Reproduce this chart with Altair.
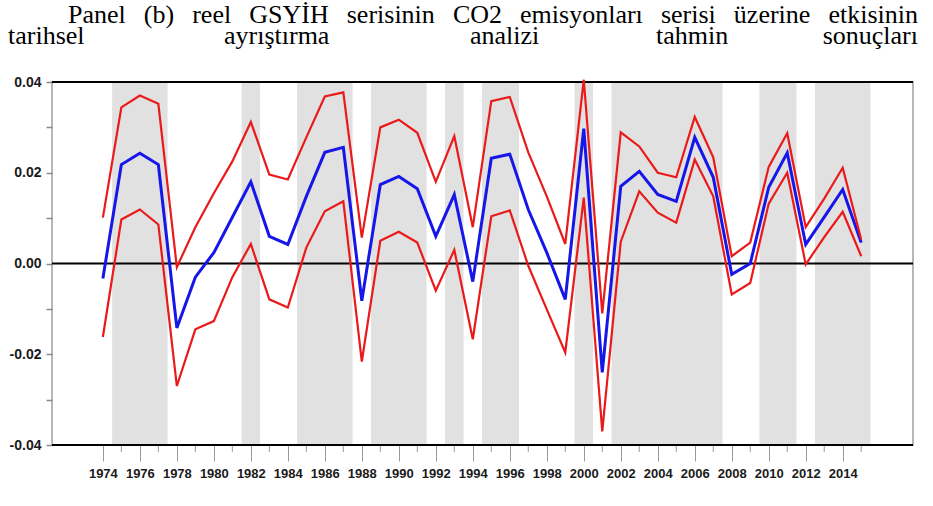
import altair as alt
import pandas as pd

years = list(range(1974, 2016))
mid = [-0.0033, 0.0218, 0.0243, 0.0218, -0.0142, -0.0030, 0.0024, 0.0102, 0.0180, 0.0060,
       0.0042, 0.0148, 0.0245, 0.0256, -0.0082, 0.0174, 0.0192, 0.0165, 0.0060, 0.0152,
       -0.0040, 0.0232, 0.0241, 0.0119, 0.0024, -0.0079, 0.0297, -0.0240, 0.0170, 0.0203,
       0.0152, 0.0137, 0.0278, 0.0190, -0.0024, 0.0000, 0.0168, 0.0244, 0.0042, 0.0102,
       0.0163, 0.0046]
upper = [0.0101, 0.0344, 0.0370, 0.0352, -0.0008, 0.0080, 0.0155, 0.0225, 0.0312, 0.0196,
         0.0185, 0.0278, 0.0368, 0.0377, 0.0057, 0.0300, 0.0317, 0.0288, 0.0180, 0.0281,
         0.0080, 0.0358, 0.0367, 0.0245, 0.0148, 0.0043, 0.0405, -0.0110, 0.0289, 0.0258,
         0.0200, 0.0190, 0.0323, 0.0234, 0.0016, 0.0046, 0.0213, 0.0287, 0.0080, 0.0143,
         0.0211, 0.0053]
lower = [-0.0162, 0.0097, 0.0119, 0.0086, -0.0270, -0.0145, -0.0127, -0.0030, 0.0043, -0.0079,
         -0.0097, 0.0035, 0.0115, 0.0137, -0.0216, 0.0050, 0.0070, 0.0046, -0.0060, 0.0030,
         -0.0167, 0.0104, 0.0117, -0.0005, -0.0101, -0.0196, 0.0145, -0.0370, 0.0048, 0.0159,
         0.0112, 0.0090, 0.0229, 0.0148, -0.0068, -0.0043, 0.0132, 0.0200, -0.0002, 0.0058,
         0.0114, 0.0016]

shade_start = [1975, 1982, 1985, 1989, 1993, 1995, 2000, 2002, 2010, 2013]
shade_end = [1977, 1982, 1987, 1991, 1993, 1996, 2000, 2007, 2011, 2015]

hlines = [0.04, 0.0, -0.04]
major_years = list(range(1974, 2015, 2))
minor_years = list(range(1975, 2016, 2))
y_ticks = [-0.04, -0.03, -0.02, -0.01, 0.0, 0.01, 0.02, 0.03, 0.04]

title_line1 = ["Panel", "(b)", "reel", "GSYİH", "serisinin", "CO2", "emisyonları",
               "serisi", "üzerine", "etkisinin"]
title_line2 = ["tarihsel", "ayrıştırma", "analizi", "tahmin", "sonuçları"]

W, H = 861, 363
LABEL_FONT = "'Liberation Sans', Arial, sans-serif"
SERIF = "'Liberation Serif', 'Times New Roman', serif"
TFS = 26

# Times-style advance widths (per 1000 em) used to justify the title lines
ADV = {"P": 556, "a": 444, "n": 500, "e": 444, "l": 278, "(": 333, "b": 500, ")": 333,
       "r": 333, "G": 722, "S": 556, "Y": 722, "İ": 333, "H": 722, "s": 389, "i": 278,
       "C": 667, "O": 722, "2": 500, "m": 778, "y": 500, "o": 500, "ı": 278, "ü": 500,
       "z": 444, "t": 278, "k": 500, "h": 500, "ş": 389, "ç": 444, "u": 500}


def wwidth(w):
    return sum(ADV.get(c, 500) for c in w) * TFS / 1000.0


xs = alt.Scale(domain=[1971.25, 2017.8], nice=False, zero=False)
ys = alt.Scale(domain=[-0.04, 0.04], nice=False, zero=False)

xaxis = alt.Axis(values=major_years, format="d", tickSize=16, tickColor="#9a9a9a", tickWidth=1,
                 domain=False, grid=False, labelFont=LABEL_FONT, labelFontSize=13,
                 labelFontWeight="bold", labelColor="#1a1a1a", labelPadding=6, title=None,
                 labelFlush=False, labelOverlap=False)
yaxis = alt.Axis(values=y_ticks, tickSize=6, tickColor="#8a8a8a", tickWidth=1.5, domain=False,
                 grid=False, labelFont=LABEL_FONT, labelFontSize=14, labelFontWeight="bold",
                 labelColor="#1a1a1a", labelPadding=5, title=None,
                 labelExpr="abs(round(datum.value*100)) % 2 == 0 ? (datum.value < 0 ? '-' : '') + format(abs(datum.value), '.2f') : ''")

df = pd.DataFrame({"year": years, "mid": mid, "upper": upper, "lower": lower})
long = df.melt("year", var_name="series", value_name="value")

bands = alt.Chart(pd.DataFrame({"s": shade_start, "e": shade_end})).transform_calculate(
    x0="datum.s - 0.5", x1="datum.e + 0.5"
).mark_rect(color="#e1e1e1").encode(
    x=alt.X("x0:Q", scale=xs, axis=xaxis), x2="x1:Q",
    y=alt.value(0), y2=alt.value(H)
)

rules = alt.Chart(pd.DataFrame({"v": hlines})).mark_rule(color="black", strokeWidth=2).encode(
    y=alt.Y("v:Q", scale=ys, axis=yaxis)
)

minor = alt.Chart(pd.DataFrame({"yr": minor_years})).mark_rule(color="#9a9a9a", strokeWidth=1).encode(
    x=alt.X("yr:Q", scale=xs, axis=xaxis), y=alt.value(H), y2=alt.value(H + 7)
)

blue = alt.Chart(long).transform_filter("datum.series == 'mid'").mark_line(
    color="#1616e8", strokeWidth=3
).encode(
    x=alt.X("year:Q", scale=xs, axis=xaxis),
    y=alt.Y("value:Q", scale=ys, axis=yaxis)
)

red = alt.Chart(long).transform_filter("datum.series != 'mid'").mark_line(
    color="#ea1a1a", strokeWidth=2.2
).encode(
    x=alt.X("year:Q", scale=xs, axis=xaxis),
    y=alt.Y("value:Q", scale=ys, axis=yaxis),
    detail="series:N"
)

dummy = pd.DataFrame({"a": [0]})


def word(txt, left, base, align="left"):
    return alt.Chart(dummy).mark_text(
        text=txt, align=align, baseline="alphabetic", font=SERIF, fontSize=TFS, color="black"
    ).encode(x=alt.value(left - 52), y=alt.value(base - 82))


# justified first line: from page x=68 to x=918
L1_START, L1_END = 68, 918
widths1 = [wwidth(w) for w in title_line1]
gap1 = (L1_END - L1_START - sum(widths1)) / (len(title_line1) - 1)
texts = []
pos = L1_START
for w, wd in zip(title_line1[:-1], widths1[:-1]):
    texts.append(word(w, pos, 23))
    pos += wd + gap1
texts.append(word(title_line1[-1], L1_END, 23, align="right"))

# justified second line
line2_left = [8, 224, 470, 656]
texts += [word(w, lx, 44) for w, lx in zip(title_line2[:-1], line2_left)]
texts.append(word(title_line2[-1], 918, 44, align="right"))

chart = alt.layer(bands, minor, rules, blue, red, *texts).properties(
    width=W, height=H,
    padding={"left": 52, "top": 82, "right": 20, "bottom": 61},
    autosize="none"
).configure_view(stroke="#a0a0a0", strokeWidth=1.5)

chart.save("out.html", embed_options={"renderer": "svg", "actions": False})
